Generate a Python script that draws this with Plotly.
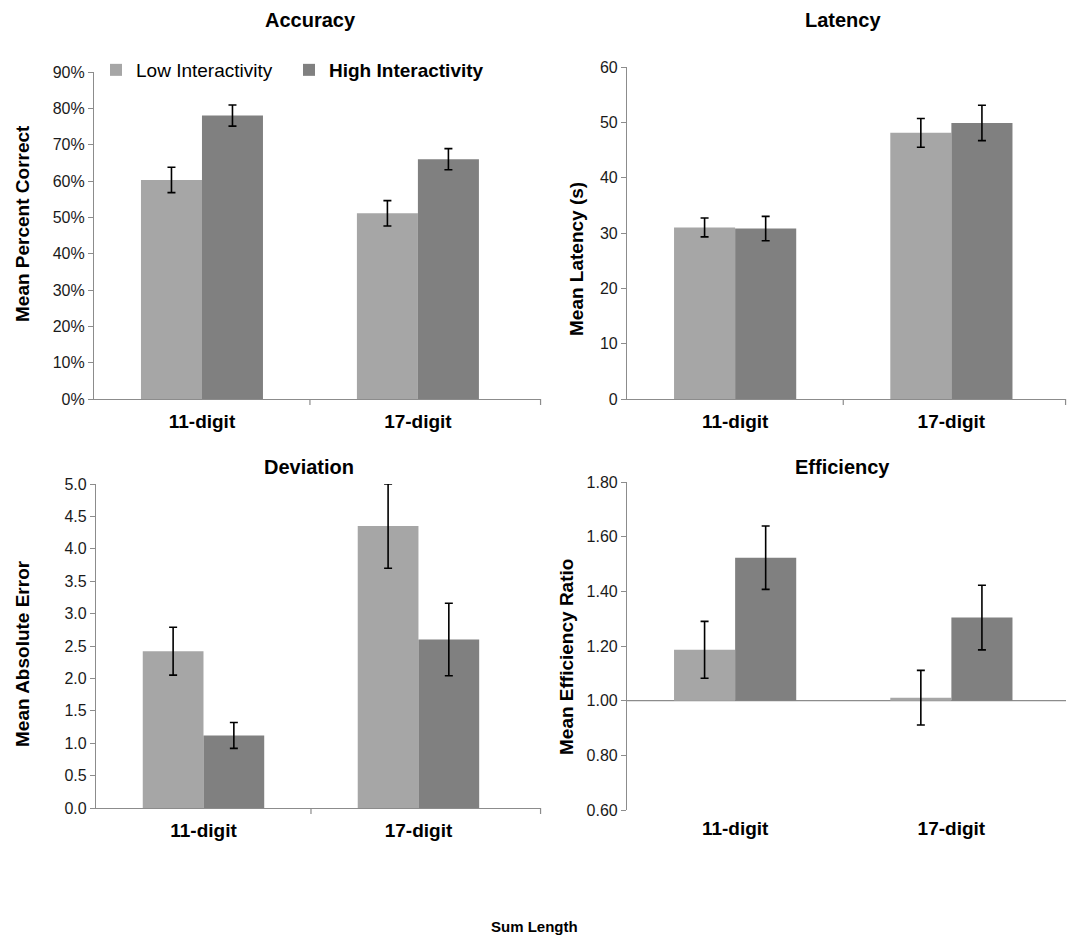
import plotly.graph_objects as go

categories = ["11-digit", "17-digit"]
series_names = ["Low Interactivity", "High Interactivity"]

accuracy_low = [0.603, 0.511]
accuracy_low_err = [0.035, 0.035]
accuracy_high = [0.780, 0.660]
accuracy_high_err = [0.029, 0.029]

latency_low = [31.0, 48.1]
latency_low_err = [1.7, 2.6]
latency_high = [30.8, 49.9]
latency_high_err = [2.2, 3.2]

deviation_low = [2.42, 4.35]
deviation_low_err = [0.37, 0.65]
deviation_high = [1.12, 2.60]
deviation_high_err = [0.20, 0.56]

efficiency_low = [1.186, 1.011]
efficiency_low_err = [0.104, 0.100]
efficiency_high = [1.523, 1.304]
efficiency_high_err = [0.116, 0.118]

LOW_C = "#a6a6a6"
HIGH_C = "#808080"
AX_C = "#8c8c8c"
FONT = "Liberation Sans, Arial, sans-serif"

W, H = 1067, 938

def px_x(a, b):
    return [a / W, b / W]

def px_y(top, bottom):
    return [1 - bottom / H, 1 - top / H]

fig = go.Figure()

panels = [
    ("x", "y", accuracy_low, accuracy_low_err, accuracy_high, accuracy_high_err, None),
    ("x2", "y2", latency_low, latency_low_err, latency_high, latency_high_err, None),
    ("x3", "y3", deviation_low, deviation_low_err, deviation_high, deviation_high_err, None),
    ("x4", "y4", efficiency_low, efficiency_low_err, efficiency_high, efficiency_high_err, 1.0),
]

for i, (xa, ya, lo, loe, hi, hie, base) in enumerate(panels):
    for k, (name, vals, errs, col) in enumerate([(series_names[0], lo, loe, LOW_C),
                                                 (series_names[1], hi, hie, HIGH_C)]):
        yv = [v - base for v in vals] if base is not None else vals
        label = name if k == 0 else "<b>" + name + "</b>"
        fig.add_trace(go.Bar(
            x=categories, y=yv, base=base, name=label,
            marker=dict(color=col, line=dict(width=0)),
            error_y=dict(type="data", array=errs, visible=True,
                         color="black", thickness=1.6, width=4),
            xaxis=xa, yaxis=ya, showlegend=(i == 0),
            legendgroup=name, legend="legend" if k == 0 else "legend2",
        ))

tick_font = dict(family=FONT, size=16, color="#1a1a1a")
cat_font = dict(family=FONT, size=19, color="black")

common_y = dict(showgrid=False, zeroline=False, showline=True, linecolor=AX_C,
                linewidth=1.2, ticks="outside", ticklen=5, tickcolor=AX_C,
                tickfont=tick_font, automargin=False)
common_x = dict(showgrid=False, zeroline=False, showline=True, linecolor=AX_C,
                linewidth=1.2, ticks="", tickfont=cat_font, type="category",
                tickprefix="<b>", ticksuffix="</b>", automargin=False,
                ticklabelstandoff=5)

legend_common = dict(orientation="h", xanchor="left", yanchor="middle",
                     font=dict(family=FONT, size=19, color="black"),
                     itemwidth=30, bgcolor="rgba(0,0,0,0)")

fig.update_layout(
    width=W, height=H,
    margin=dict(l=0, r=0, t=0, b=0, pad=0, autoexpand=False),
    paper_bgcolor="white", plot_bgcolor="white",
    barmode="group", bargap=0.435, bargroupgap=0,
    font=dict(family=FONT, color="black"),
    legend=dict(legend_common, x=96 / W, y=1 - 70 / H),
    legend2=dict(legend_common, x=289 / W, y=1 - 70 / H),
    xaxis=dict(common_x, domain=px_x(94, 541), anchor="y", range=[-0.5, 1.57]),
    yaxis=dict(common_y, domain=px_y(72, 399), anchor="x", range=[0, 0.9],
               dtick=0.1, tickformat=".0%"),
    xaxis2=dict(common_x, domain=px_x(627, 1066), anchor="y2", range=[-0.5, 1.53]),
    yaxis2=dict(common_y, domain=px_y(67, 399), anchor="x2", range=[0, 60], dtick=10),
    xaxis3=dict(common_x, domain=px_x(96, 541), anchor="y3", range=[-0.5, 1.57]),
    yaxis3=dict(common_y, domain=px_y(484, 808), anchor="x3", range=[0, 5], dtick=0.5,
                tickformat=".1f"),
    xaxis4=dict(common_x, domain=px_x(627, 1066), anchor="y4", range=[-0.5, 1.53],
                showline=False),
    yaxis4=dict(common_y, domain=px_y(482, 810), anchor="x4", range=[0.6, 1.8], dtick=0.2,
                tickformat=".2f"),
)

# baseline at 1.00 for the efficiency panel
fig.add_shape(type="line", xref="x4 domain", yref="y4", x0=0, x1=1, y0=1.0, y1=1.0,
              line=dict(color=AX_C, width=1.2), layer="below")

# category-boundary tick marks on the bottom axes
for xa, ya, h in [("x", "y", 327), ("x2", "y2", 332), ("x3", "y3", 324)]:
    fig.add_shape(type="line", xref=xa, yref=ya + " domain", x0=0.5, x1=0.5,
                  y0=0, y1=-6 / h, line=dict(color=AX_C, width=1.2))
    fig.add_shape(type="line", xref=xa + " domain", yref=ya + " domain", x0=0.999, x1=0.999,
                  y0=0, y1=-6 / h, line=dict(color=AX_C, width=1.2))

panel_titles = [("Accuracy", 310, 20), ("Latency", 843, 20),
                ("Deviation", 309, 467), ("Efficiency", 842, 467)]
for txt, cx, cy in panel_titles:
    fig.add_annotation(text="<b>" + txt + "</b>", x=cx / W, y=1 - cy / H,
                       xref="paper", yref="paper", showarrow=False,
                       font=dict(family=FONT, size=20, color="black"),
                       xanchor="center", yanchor="middle")

y_titles = [("Mean Percent Correct", 22, 224), ("Mean Latency (s)", 576, 259),
            ("Mean Absolute Error", 22, 654), ("Mean Efficiency Ratio", 566, 657)]
for txt, cx, cy in y_titles:
    fig.add_annotation(text="<b>" + txt + "</b>", x=cx / W, y=1 - cy / H,
                       xref="paper", yref="paper", showarrow=False, textangle=-90,
                       font=dict(family=FONT, size=19, color="black"),
                       xanchor="center", yanchor="middle")

fig.add_annotation(text="<b>Sum Length</b>", x=534 / W, y=1 - 926 / H,
                   xref="paper", yref="paper", showarrow=False,
                   font=dict(family=FONT, size=15, color="black"),
                   xanchor="center", yanchor="middle")

reset_css = ("var s=document.createElement('style');"
             "s.innerHTML='html,body{margin:0 !important;padding:0 !important;overflow:hidden;}"
             "body>div{margin:0;padding:0;line-height:0;font-size:0;}';"
             "document.head.appendChild(s);")

fig.write_html("out.html", config={"displayModeBar": False}, post_script=reset_css)
